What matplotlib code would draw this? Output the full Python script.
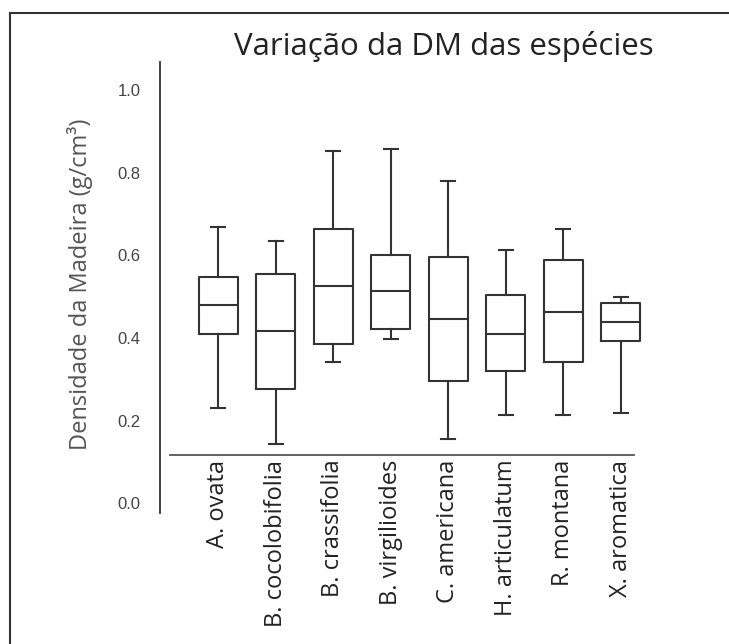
import matplotlib.pyplot as plt
from matplotlib.lines import Line2D

# especies e estatisticas
especies = ["A. ovata", "B. cocolobifolia", "B. crassifolia", "B. virgilioides",
            "C. americana", "H. articulatum", "R. montana", "X. aromatica"]
minimo = [0.230, 0.143, 0.343, 0.397, 0.155, 0.213, 0.213, 0.218]
q1 = [0.411, 0.276, 0.385, 0.423, 0.297, 0.319, 0.341, 0.392]
mediana = [0.479, 0.416, 0.525, 0.513, 0.445, 0.411, 0.464, 0.438]
q3 = [0.547, 0.554, 0.663, 0.602, 0.597, 0.505, 0.590, 0.484]
maximo = [0.670, 0.636, 0.854, 0.858, 0.781, 0.614, 0.663, 0.500]
yticks = [0.0, 0.2, 0.4, 0.6, 0.8, 1.0]

W, H = 729, 644
fig = plt.figure(figsize=(W / 100, H / 100), dpi=100)
ax = fig.add_axes([160 / W, 1 - 530 / H, 520 / W, 490 / H])

stats = []
for i, nome in enumerate(especies):
    stats.append({"label": nome, "whislo": minimo[i], "q1": q1[i], "med": mediana[i],
                  "q3": q3[i], "whishi": maximo[i], "fliers": []})

cor = "#333333"
ax.bxp(stats, positions=range(1, len(especies) + 1), widths=0.68, capwidths=0.24,
       showfliers=False,
       boxprops=dict(color=cor, linewidth=1.5),
       medianprops=dict(color=cor, linewidth=1.5),
       whiskerprops=dict(color=cor, linewidth=1.5),
       capprops=dict(color=cor, linewidth=1.5))

ax.set_xlim(-0.01, 9.03)
ax.set_ylim(-0.065, 1.122)

for s in ["top", "right"]:
    ax.spines[s].set_visible(False)
ax.spines["left"].set_bounds(-0.024, 1.069)
ax.spines["left"].set_color(cor)
ax.spines["left"].set_linewidth(1.3)
ax.spines["bottom"].set_position(("data", 0.116))
ax.spines["bottom"].set_bounds(0.165, 8.23)
ax.spines["bottom"].set_color("#555555")
ax.spines["bottom"].set_linewidth(1.3)

ax.set_yticks(yticks)
ax.set_yticklabels([f"{v:.1f}" for v in yticks], family="Liberation Sans",
                   fontsize=12, color="#444444")
ax.tick_params(axis="y", length=0, pad=14)
ax.set_xticks(range(1, len(especies) + 1))
ax.set_xticklabels(especies, rotation=90, family="Open Sans", fontsize=17,
                   color="#222222", va="top")
ax.tick_params(axis="x", length=0, pad=0)
# rotulos logo abaixo da linha do eixo x
for lab in ax.get_xticklabels():
    lab.set_transform(ax.transData)
    lab.set_position((lab.get_position()[0], 0.105))

fig.text(444 / W, 1 - 47 / H, "Variação da DM das espécies", family="Open Sans",
         fontsize=22.5, color="#222222", ha="center", va="center")
fig.text(80 / W, 1 - 284 / H, "Densidade da Madeira (g/cm³)", family="Open Sans",
         fontsize=17, color="#555555", ha="center", va="center", rotation=90)

# moldura (apenas esquerda e topo visiveis)
fig.add_artist(Line2D([10 / W, 10 / W], [0, 1 - 13 / H], color="#333333", lw=1.5))
fig.add_artist(Line2D([10 / W, 1], [1 - 13 / H, 1 - 13 / H], color="#333333", lw=1.5))

fig.savefig("out.png", dpi=100)
